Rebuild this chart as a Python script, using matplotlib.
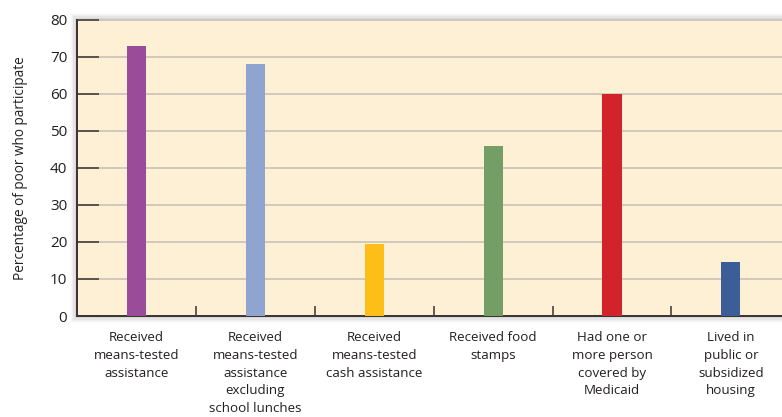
import matplotlib
matplotlib.use("Agg")
import matplotlib.pyplot as plt
from matplotlib.patches import Rectangle

categories = [
    "Received\nmeans-tested\nassistance",
    "Received\nmeans-tested\nassistance\nexcluding\nschool lunches",
    "Received\nmeans-tested\ncash assistance",
    "Received food\nstamps",
    "Had one or\nmore person\ncovered by\nMedicaid",
    "Lived in\npublic or\nsubsidized\nhousing",
]
values = [73, 68, 19.5, 46, 60, 14.5]
colors = ["#9A4C9A", "#8FA5CF", "#FDBF17", "#739F66", "#D2222A", "#3B5E98"]
yticks = [0, 10, 20, 30, 40, 50, 60, 70, 80]

plt.rcParams['font.family'] = ['Open Sans', 'DejaVu Sans']

fig = plt.figure(figsize=(7.82, 4.17), dpi=100)
ax = fig.add_axes([77/782, 101/417, 1 - 77/782, 296/417])

# subtle drop shadow behind the axes
for i, a in enumerate([0.07, 0.05, 0.04, 0.03, 0.02, 0.01]):
    d = (i + 1) * 1.2
    fig.patches.append(Rectangle(((77 - d)/782, (101 - d)/417), 1, (296 + 2*d)/417,
                                 transform=fig.transFigure, facecolor="black",
                                 alpha=a, edgecolor="none", zorder=-1))

ax.set_facecolor("#FDF0D4")
x = list(range(len(categories)))
ax.bar(x, values, width=0.16, color=colors, zorder=3)

ax.set_xlim(-0.5, 5.43)
ax.set_ylim(0, 80)
ax.set_yticks(yticks)
ax.set_yticklabels([str(t) for t in yticks], fontsize=11, color="#231F20")
ax.yaxis.grid(True, color="#C9C3B6", linewidth=1.2, zorder=1)
ax.tick_params(axis="y", direction="in", length=16, width=1.1, color="#3A3330", pad=7)

ax.set_xticks([i + 0.5 for i in range(len(categories) - 1)], minor=False)
ax.set_xticklabels([])
ax.tick_params(axis="x", which="major", direction="in", length=7, width=1.1, color="#3A3330")
ax.set_xticks(x, minor=True)
ax.set_xticklabels(categories, minor=True, fontsize=9.6, color="#231F20", linespacing=1.47)
ax.tick_params(axis="x", which="minor", length=0, pad=11)

for s in ["top", "right"]:
    ax.spines[s].set_visible(False)
for s in ["left", "bottom"]:
    ax.spines[s].set_color("#3A3330")
    ax.spines[s].set_linewidth(1.4)

ax.set_ylabel("Percentage of poor who participate", fontsize=9.8, color="#231F20")
ax.yaxis.set_label_coords(-0.069, 0.5)

fig.savefig("out.png", dpi=100)
